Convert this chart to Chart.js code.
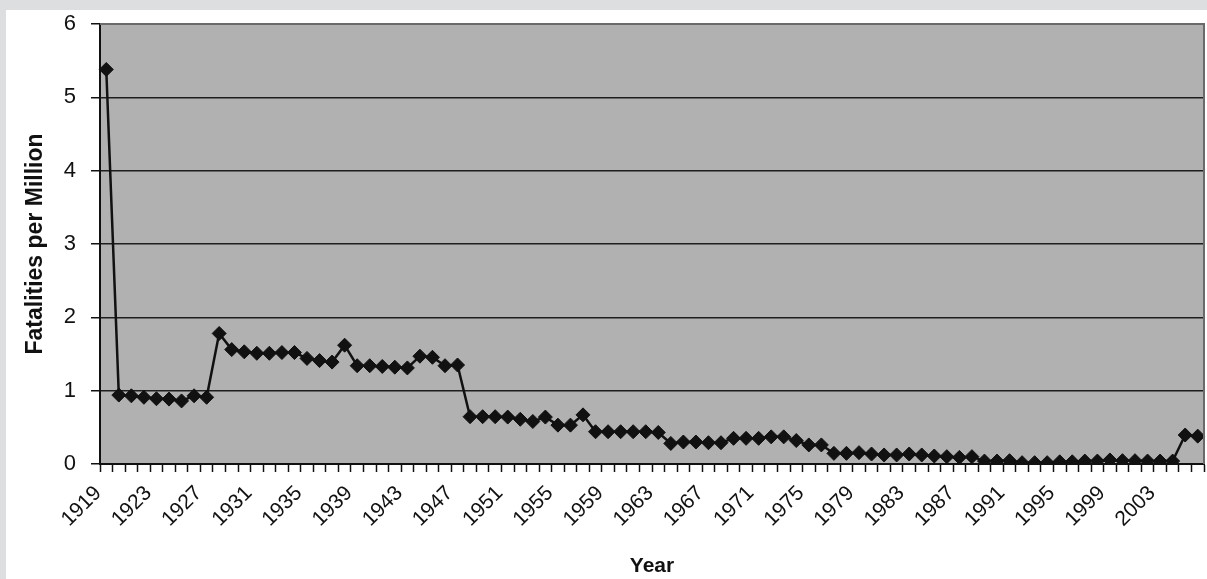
<!DOCTYPE html>
<html>
<head>
<meta charset="utf-8">
<script src="https://cdn.jsdelivr.net/npm/chart.js@4"></script>
<style>
  html, body { margin: 0; padding: 0; background: #dddedf; overflow: hidden; }
  #wrap { position: absolute; left: 0; top: 0; width: 1207px; height: 579px; overflow: hidden; }
</style>
</head>
<body>
<div id="wrap"><canvas id="c" width="1212" height="579"></canvas></div>
<script>
const years = [];
for (let y = 1919; y <= 2006; y++) years.push(String(y));

const fatalities = [
  5.38, 0.94, 0.93, 0.91, 0.89, 0.885, 0.86, 0.93, 0.91, 1.78,
  1.56, 1.53, 1.51, 1.51, 1.52, 1.52, 1.44, 1.41, 1.39, 1.62,
  1.34, 1.34, 1.33, 1.32, 1.31, 1.47, 1.455, 1.34, 1.35, 0.645,
  0.645, 0.645, 0.64, 0.61, 0.58, 0.64, 0.53, 0.53, 0.67, 0.44,
  0.44, 0.44, 0.44, 0.44, 0.43, 0.28, 0.30, 0.30, 0.29, 0.29,
  0.35, 0.35, 0.35, 0.37, 0.37, 0.32, 0.26, 0.26, 0.145, 0.145,
  0.155, 0.136, 0.123, 0.123, 0.136, 0.123, 0.109, 0.10, 0.09, 0.10,
  0.04, 0.04, 0.045, 0.018, 0.018, 0.018, 0.03, 0.03, 0.04, 0.04,
  0.055, 0.045, 0.045, 0.04, 0.04, 0.04, 0.395, 0.38
];

const yTicks = [0, 1, 2, 3, 4, 5, 6];
const xTitle = 'Year';
const yTitle = 'Fatalities per Million';

const bgPlugin = {
  id: 'bg',
  beforeDraw(chart) {
    const ctx = chart.ctx, a = chart.chartArea;
    ctx.save();
    ctx.fillStyle = '#dddedf';
    ctx.fillRect(0, 0, chart.width, chart.height);
    ctx.fillStyle = '#ffffff';
    ctx.fillRect(6, 10, chart.width - 6, chart.height - 10);
    ctx.fillStyle = '#b1b1b1';
    ctx.fillRect(a.left, a.top, a.right - a.left, a.bottom - a.top);
    ctx.restore();
  },
  afterDatasetsDraw(chart) {
    const ctx = chart.ctx, a = chart.chartArea;
    ctx.save();
    ctx.strokeStyle = '#6a6a6a';
    ctx.lineWidth = 2;
    ctx.beginPath();
    ctx.moveTo(a.left, a.top);
    ctx.lineTo(a.right, a.top);
    ctx.lineTo(a.right, a.bottom);
    ctx.stroke();
    ctx.restore();
  }
};

new Chart(document.getElementById('c'), {
  type: 'line',
  data: {
    labels: years,
    datasets: [{
      data: fatalities,
      borderColor: '#111111',
      backgroundColor: '#111111',
      borderWidth: 2.5,
      pointStyle: 'rectRot',
      pointRadius: 7,
      pointHoverRadius: 7,
      pointBackgroundColor: '#111111',
      pointBorderColor: '#111111',
      pointBorderWidth: 1,
      tension: 0,
      fill: false
    }]
  },
  options: {
    responsive: false,
    animation: false,
    devicePixelRatio: 1,
    layout: { padding: { top: 24, right: 4, left: 0, bottom: 0 } },
    plugins: { legend: { display: false }, tooltip: { enabled: false } },
    scales: {
      x: {
        type: 'category',
        offset: true,
        grid: {
          offset: true,
          drawOnChartArea: false,
          drawTicks: true,
          tickLength: 8,
          tickColor: '#111111',
          tickWidth: 1.5
        },
        border: { display: true, color: '#111111', width: 2 },
        ticks: {
          autoSkip: false,
          maxRotation: 45,
          minRotation: 45,
          padding: 9,
          labelOffset: -8,
          color: '#111111',
          font: { family: '"Liberation Sans", Arial, sans-serif', size: 21 },
          callback: function(v, i) { return i % 4 === 0 ? this.getLabelForValue(v) : ''; }
        },
        title: {
          display: true,
          text: xTitle,
          color: '#111111',
          font: { family: '"Liberation Sans", Arial, sans-serif', size: 21, weight: 'bold' },
          padding: { top: 0, bottom: 0 }
        },
        afterFit(scale) {
          scale.height = 115;
          scale.paddingLeft = 0;
          scale.paddingRight = 0;
        }
      },
      y: {
        min: 0,
        max: 6,
        afterBuildTicks(scale) { scale.ticks = yTicks.map(v => ({ value: v })); },
        grid: {
          color: '#1e1e1e',
          lineWidth: 1.5,
          drawTicks: true,
          tickLength: 9,
          tickColor: '#111111'
        },
        border: { display: true, color: '#111111', width: 2 },
        ticks: {
          padding: 15,
          color: '#111111',
          font: { family: '"Liberation Sans", Arial, sans-serif', size: 22 }
        },
        title: {
          display: true,
          text: yTitle,
          color: '#111111',
          font: { family: '"Liberation Sans", Arial, sans-serif', size: 23, weight: 'bold' },
          padding: { top: 22, bottom: 0 }
        },
        afterFit(scale) {
          scale.width = 100;
          scale.paddingTop = 0;
          scale.paddingBottom = 0;
        }
      }
    }
  },
  plugins: [bgPlugin]
});
</script>
</body>
</html>
